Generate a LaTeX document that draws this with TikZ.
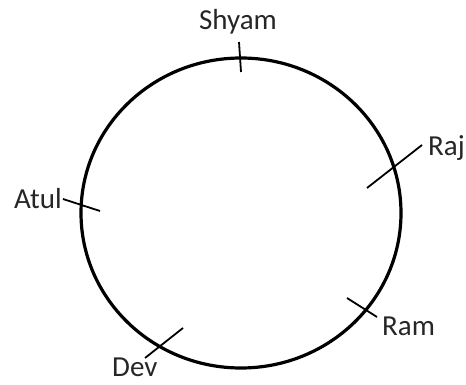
\documentclass[tikz,border=0pt]{standalone}
\usepackage{fontspec}
\usetikzlibrary{shapes.geometric}
\setmainfont{Carlito}
\begin{document}
\begin{tikzpicture}[x=1pt,y=-1pt,
  lbl/.style={inner sep=0pt,font=\fontsize{29}{32}\selectfont,text=black!85},
  tick/.style={line width=1.8pt,black},
  ring/.style={line width=3.2pt,black}]
\useasboundingbox (0,0) rectangle (466,385);
\node[ring,draw,ellipse,minimum width=320pt,minimum height=310pt,inner sep=0pt] (c) at (241,213) {};
% labels
\node[lbl,anchor=base] (shyam) at (238,30) {Shyam};
\node[lbl,anchor=base west] (raj) at (428,156) {Raj};
\node[lbl,anchor=base east] (atul) at (62,208) {Atul};
\node[lbl,anchor=base west] (ram) at (382,335) {Ram};
\node[lbl,anchor=base west] (dev) at (112,376) {Dev};
% tick ends
\coordinate (s1) at (239,42); \coordinate (s2) at (241,72);
\coordinate (r1) at (422,145); \coordinate (r2) at (367,188);
\coordinate (a1) at (63,199); \coordinate (a2) at (100,211);
\coordinate (m1) at (347,298); \coordinate (m2) at (377,317);
\coordinate (d1) at (183,328); \coordinate (d2) at (145,358);
\draw[tick] (s1) -- (s2);
\draw[tick] (r1) -- (r2);
\draw[tick] (a1) -- (a2);
\draw[tick] (m1) -- (m2);
\draw[tick] (d1) -- (d2);
\end{tikzpicture}
\end{document}
